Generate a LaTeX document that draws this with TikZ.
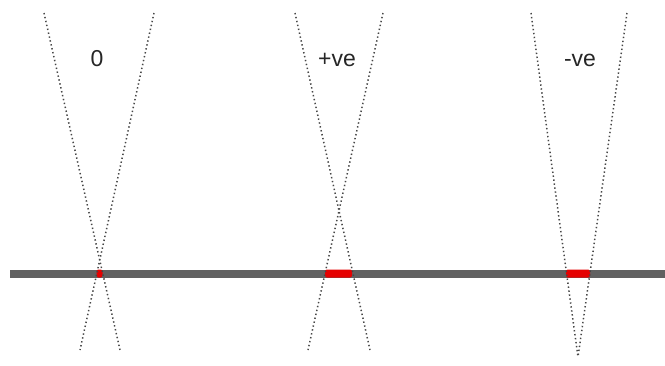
\documentclass[tikz,border=0pt]{standalone}
\usepackage{fontspec}
\setmainfont{Liberation Sans}
\tikzset{
  ray/.style={line width=1.5pt, black!72, dash pattern=on 1.4pt off 2.6pt},
  bar/.style={line width=8pt, black!62},
  hit/.style={fill=red!90!black, rounded corners=2pt},
  lbl/.style={font=\fontsize{23}{26}\selectfont, inner sep=0pt, anchor=base, text=black!85}
}
\begin{document}
\begin{tikzpicture}[x=1pt,y=-1pt]
\useasboundingbox (0,0) rectangle (665,365);
% bar
\draw[bar] (10,273.5) -- (665,273.5);
% zero
\fill[hit] (96.5,269.5) rectangle (102.5,277.5);
\draw[ray] (44,13) -- (120,350);
\draw[ray] (154,13) -- (80,350);
\node[lbl] (z) at (97,66) {0};
% +ve
\fill[hit] (325,269.5) rectangle (352,277.5);
\draw[ray] (295,13) -- (370,350);
\draw[ray] (383,13) -- (308,350);
\node[lbl] (p) at (337,66) {+ve};
% -ve
\fill[hit] (566,269.5) rectangle (590,277.5);
\draw[ray] (531,13) -- (578,357);
\draw[ray] (627,13) -- (578,357);
\node[lbl] (n) at (580,66) {-ve};
\end{tikzpicture}
\end{document}
